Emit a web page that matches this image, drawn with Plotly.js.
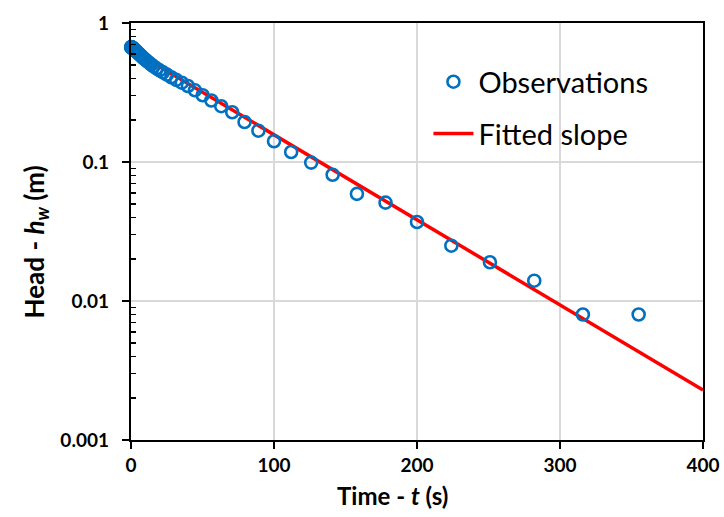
<!DOCTYPE html>
<html>
<head>
<meta charset="utf-8">
<script src="https://cdn.plot.ly/plotly-3.0.1.min.js"></script>
<style>html,body{margin:0;padding:0;background:#fff;}</style>
</head>
<body>
<div id="chart" style="width:724px;height:517px;"></div>
<script>
// Observations: time (s) and head h_w (m)
const obsTime = [0.1,0.2,0.3,0.4,0.5,0.6,0.7,0.8,0.9,1,1.12,1.26,1.41,1.58,1.78,2,2.24,2.51,2.82,3.16,3.55,3.98,4.47,5.01,5.62,6.31,7.08,7.94,8.91,10,11.2,12.6,14.1,15.8,17.8,20,22.4,25.1,28.2,31.6,35.5,39.8,44.7,50.1,56.2,63.1,70.8,79.4,89.1,100,112,126,141,158,178,200,224,251,282,316,355];
const obsHead = [0.671,0.670,0.669,0.668,0.667,0.666,0.665,0.664,0.663,0.662,0.660,0.658,0.656,0.654,0.651,0.648,0.645,0.641,0.637,0.632,0.627,0.621,0.614,0.607,0.599,0.590,0.580,0.569,0.557,0.545,0.532,0.518,0.503,0.488,0.472,0.456,0.441,0.425,0.407,0.390,0.372,0.352,0.328,0.302,0.277,0.252,0.228,0.194,0.168,0.141,0.118,0.099,0.081,0.059,0.051,0.037,0.025,0.019,0.014,0.008,0.008];
// Fitted slope line end points
const fitTime = [0, 400];
const fitHead = [0.643, 0.00229];
// Axis ticks
const xTicks = [0, 100, 200, 300, 400];
const yTicks = [0.001, 0.01, 0.1, 1];
const yTickText = ['0.001', '0.01', '0.1', '1'];
const yMinorTicks = [0.002,0.003,0.004,0.005,0.006,0.007,0.008,0.009,
                     0.02,0.03,0.04,0.05,0.06,0.07,0.08,0.09,
                     0.2,0.3,0.4,0.5,0.6,0.7,0.8,0.9];
const yLogRange = [-3, 0];

const FONT = 'Lato, "Open Sans", sans-serif';

const traces = [
  {
    // empty helper trace so the minor-tick axis is drawn
    x: [], y: [], type: 'scatter', mode: 'markers', yaxis: 'y2',
    showlegend: false, hoverinfo: 'skip'
  },
  {
    x: fitTime, y: fitHead, type: 'scatter', mode: 'lines',
    name: 'Fitted slope', legendgroup: 'b', legendrank: 2,
    line: {color: '#FF0000', width: 3.5},
    cliponaxis: true
  },
  {
    x: obsTime, y: obsHead, type: 'scatter', mode: 'markers',
    name: 'Observations', legendgroup: 'a', legendrank: 1,
    marker: {symbol: 'circle-open', size: 12, color: '#0070C0', line: {width: 2.6, color: '#0070C0'}},
    cliponaxis: false
  }
];

const layout = {
  width: 724, height: 517,
  margin: {l: 131, r: 21, t: 23, b: 77},
  paper_bgcolor: '#fff', plot_bgcolor: '#fff',
  font: {family: FONT, color: '#000'},
  showlegend: true,
  legend: {
    x: 0.52, y: 0.92, xanchor: 'left', yanchor: 'top',
    bgcolor: 'rgba(0,0,0,0)', borderwidth: 0,
    font: {family: FONT, size: 29, color: '#000'},
    traceorder: 'grouped', tracegroupgap: 11,
    itemwidth: 40
  },
  xaxis: {
    range: [0, 400], tickvals: xTicks, ticktext: xTicks.map(String),
    showline: true, linecolor: '#000', linewidth: 2, mirror: true,
    ticks: 'outside', ticklen: 7, tickwidth: 2, tickcolor: '#000',
    showgrid: true, gridcolor: '#D9D9D9', gridwidth: 1.5,
    zeroline: false,
    tickfont: {family: FONT, size: 19, color: '#000', weight: 'bold'}
  },
  yaxis: {
    type: 'log', range: yLogRange,
    tickmode: 'array', tickvals: yTicks, ticktext: yTickText.map(s => s + '\u00a0\u00a0'),
    showline: true, linecolor: '#000', linewidth: 2, mirror: true,
    ticks: 'outside', ticklen: 7, tickwidth: 2, tickcolor: '#000',
    showgrid: true, gridcolor: '#D9D9D9', gridwidth: 1.5,
    zeroline: false,
    tickfont: {family: FONT, size: 19, color: '#000', weight: 'bold'}
  },
  yaxis2: {
    type: 'log', range: yLogRange, overlaying: 'y', side: 'left',
    tickmode: 'array', tickvals: yMinorTicks, showticklabels: false,
    ticks: 'inside', ticklen: 5, tickwidth: 1.5, tickcolor: '#000',
    showgrid: false, zeroline: false, showline: false
  },
  annotations: [
    {
      xref: 'paper', yref: 'paper', x: 0.458, y: -0.134,
      xanchor: 'center', yanchor: 'middle', showarrow: false,
      text: '<b>Time - <i>t</i> (s)</b>',
      font: {family: FONT, size: 24, color: '#000'}
    },
    {
      xref: 'paper', yref: 'paper', x: -0.167, y: 0.475,
      xanchor: 'center', yanchor: 'middle', showarrow: false, textangle: -90,
      text: '<b>Head - <i>h</i><sub><i>w</i></sub> (m)</b>',
      font: {family: FONT, size: 26, color: '#000'}
    }
  ]
};

Plotly.newPlot('chart', traces, layout, {displayModeBar: false, staticPlot: true});
</script>
</body>
</html>
